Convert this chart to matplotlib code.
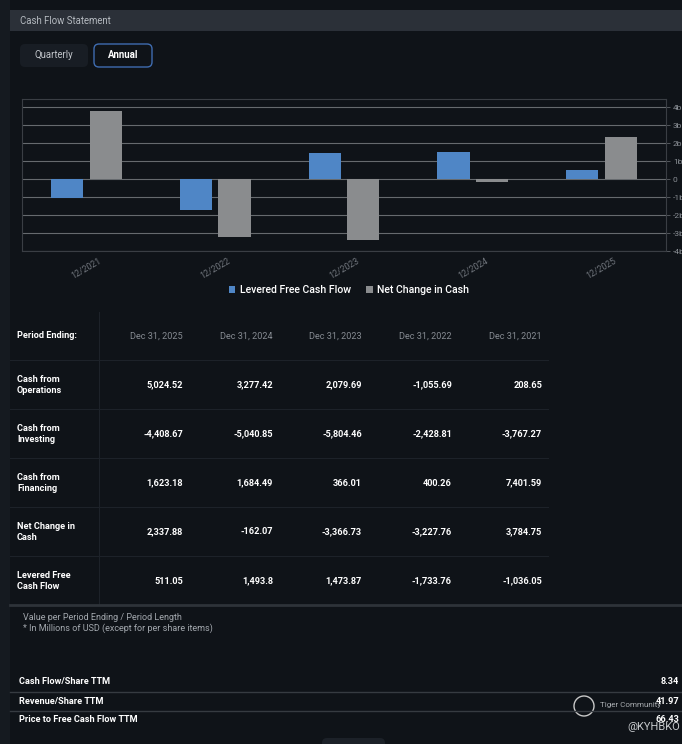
import matplotlib.pyplot as plt
import numpy as np
from matplotlib.patches import Rectangle, FancyBboxPatch, Circle

plt.rcParams['font.family'] = ['Roboto', 'DejaVu Sans']

# data (millions of USD)
periods = ['Dec 31, 2025', 'Dec 31, 2024', 'Dec 31, 2023', 'Dec 31, 2022', 'Dec 31, 2021']
row_labels = ['Cash from\nOperations', 'Cash from\nInvesting', 'Cash from\nFinancing',
              'Net Change in\nCash', 'Levered Free\nCash Flow']
ops = [5024.52, 3277.42, 2079.69, -1055.69, 208.65]
inv = [-4408.67, -5040.85, -5804.46, -2428.81, -3767.27]
fin = [1623.18, 1684.49, 366.01, 400.26, 7401.59]
ncc = [2337.88, -162.07, -3366.73, -3227.76, 3784.75]
lfcf = [511.05, 1493.8, 1473.87, -1733.76, -1036.05]

chart_years = ['12/2021', '12/2022', '12/2023', '12/2024', '12/2025']
y_ticks = [4, 3, 2, 1, 0, -1, -2, -3, -4]
y_tick_labels = ['4b', '3b', '2b', '1b', '0', '-1b', '-2b', '-3b', '-4b']

ttm_labels = ['Cash Flow/Share TTM', 'Revenue/Share TTM', 'Price to Free Cash Flow TTM']
ttm_values = ['8.34', '41.97', '66.43']

BG = '#0f1318'
W, H = 682, 744

fig = plt.figure(figsize=(W / 100, H / 100), dpi=100, facecolor=BG)

# background layer in pixel coords
bg = fig.add_axes([0, 0, 1, 1])
bg.set_xlim(0, W)
bg.set_ylim(H, 0)
bg.axis('off')
bg.add_patch(Rectangle((0, 0), 10, H, color='#151a20', lw=0))
bg.add_patch(Rectangle((10, 10), W - 10, 21, color='#2b3038', lw=0))
bg.text(20, 21, 'Cash Flow Statement', color='#b4b9bf', fontsize=6.9, va='center')

bg.add_patch(FancyBboxPatch((20, 44), 68, 23, boxstyle='round,pad=0,rounding_size=5',
                            fc='#181d24', ec='none'))
bg.text(54, 55.5, 'Quarterly', color='#c0c4c9', fontsize=6.9, ha='center', va='center')
bg.add_patch(FancyBboxPatch((94, 44), 58, 23, boxstyle='round,pad=0,rounding_size=5',
                            fc=BG, ec='#3f6cb0', lw=1))
bg.text(123, 55.5, 'Annual', color='white', fontsize=6.9, ha='center', va='center',
        fontweight='bold')


def fmt(v):
    s = f'{v:,.2f}'
    return s.rstrip('0').rstrip('.') if '.' in s else s


# table
col_x = [183, 273, 362, 452, 542]
bg.text(17, 336, 'Period Ending:', color='white', fontsize=6.6, fontweight='bold', va='center')
for x, p in zip(col_x, periods):
    bg.text(x, 336, p, color='#868b92', fontsize=6.6, ha='right', va='center')
table_rows = [ops, inv, fin, ncc, lfcf]
for i, (lab, vals) in enumerate(zip(row_labels, table_rows)):
    y = 385 + 49 * i
    bg.plot([10, 548], [y - 25, y - 25], color='#1d2229', lw=0.8)
    bg.text(17, y, lab, color='white', fontsize=6.6, fontweight='bold', va='center',
            linespacing=1.25)
    for x, v in zip(col_x, vals):
        bg.text(x, y, fmt(v), color='white', fontsize=6.6, ha='right', va='center',
                fontweight='bold')
bg.plot([99, 99], [312, 604], color='#1d2229', lw=0.8)
bg.plot([10, W], [605, 605], color='#2e3339', lw=2)

bg.text(23, 617, 'Value per Period Ending / Period Length', color='#a3a8ae', fontsize=6.5,
        va='center')
bg.text(23, 628, '* In Millions of USD (except for per share items)', color='#a3a8ae',
        fontsize=6.5, va='center')

for i, (lab, val) in enumerate(zip(ttm_labels, ttm_values)):
    y = 682 + 19 * i
    bg.text(19, y, lab, color='white', fontsize=6.6, fontweight='bold', va='center')
    bg.text(679, y, val, color='white', fontsize=6.6, fontweight='bold', va='center', ha='right')
    if i < 2:
        bg.plot([10, W], [y + 9.5, y + 9.5], color='#363b41', lw=1)

# watermark
bg.add_patch(Circle((584, 706), 10, fc='none', ec='#c8c8c8', lw=1))
bg.text(600, 705, 'Tiger Community', color='#a8acb0', fontsize=5.8, va='center')
bg.text(680, 727, '@KYHBKO', color='#c8cbce', fontsize=8, va='center', ha='right')
bg.add_patch(FancyBboxPatch((322, 738), 63, 12, boxstyle='round,pad=0,rounding_size=5',
                            fc='#1c2128', ec='none'))

# bar chart
ax = fig.add_axes([22 / W, 1 - 251 / H, (666 - 22) / W, (251 - 99) / H])
ax.set_facecolor(BG)
x = np.arange(len(chart_years))
lfcf_b = np.array(lfcf[::-1]) / 1000
ncc_b = np.array(ncc[::-1]) / 1000
ax.bar(x - 0.15, lfcf_b, width=0.25, color='#4f86c6', label='Levered Free Cash Flow', zorder=3)
ax.bar(x + 0.15, ncc_b, width=0.25, color='#8a8c8e', label='Net Change in Cash', zorder=3)
ax.set_xlim(-0.5, len(chart_years) - 0.5)
ax.set_ylim(-4, 4.45)
ax.set_yticks(y_ticks)
ax.set_yticklabels(y_tick_labels)
ax.yaxis.tick_right()
ax.grid(axis='y', color='#666a6e', lw=0.8, zorder=0)
ax.tick_params(axis='y', colors='#5f6368', labelcolor='#8a8f95', labelsize=6, length=3,
               width=0.6, pad=2)
ax.set_xticks(x)
ax.set_xticklabels(chart_years, rotation=30, color='#70757c', fontsize=6.3)
ax.tick_params(axis='x', length=0, pad=4)
for s in ax.spines.values():
    s.set_color('#3a3e44')
    s.set_linewidth(0.8)

leg = ax.legend(loc='center', bbox_to_anchor=(349 / W, 1 - 290 / H),
                bbox_transform=fig.transFigure, ncol=2, frameon=False,
                prop={'size': 7.6, 'weight': 'medium'},
                handlelength=0.6, handleheight=0.6, handletextpad=0.4, columnspacing=1.5)
for t in leg.get_texts():
    t.set_color('white')

fig.savefig('out.png', dpi=100, facecolor=BG)
